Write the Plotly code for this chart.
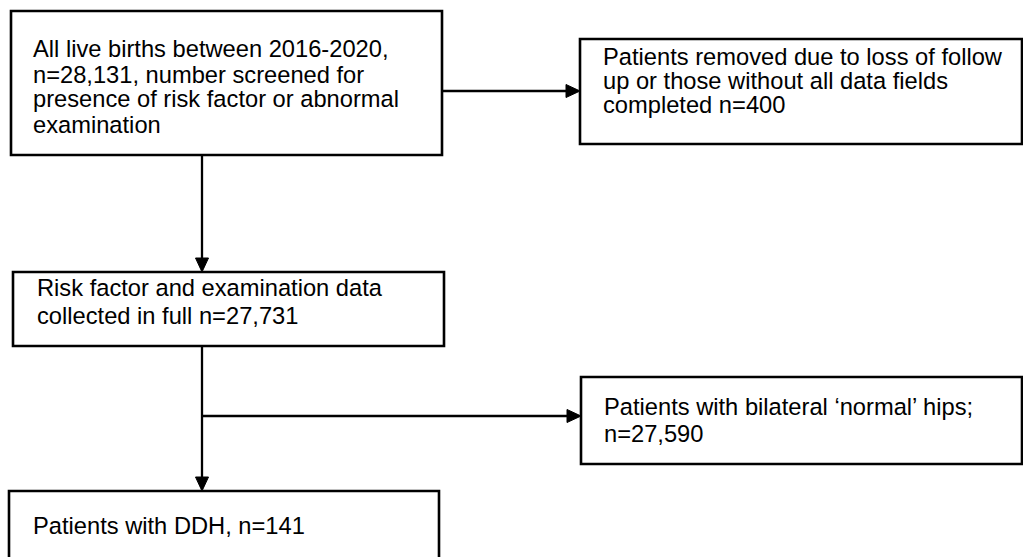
import plotly.graph_objects as go

# ---- content ----
box1_lines = ["All live births between 2016-2020,",
              "n=28,131, number screened for",
              "presence of risk factor or abnormal",
              "examination"]
box2_lines = ["Patients removed due to loss of follow",
              "up or those without all data fields",
              "completed n=400"]
box3_lines = ["Risk factor and examination data",
              "collected in full n=27,731"]
box4_lines = ["Patients with bilateral \u2018normal\u2019 hips;",
              "n=27,590"]
box5_lines = ["Patients with DDH, n=141"]

# ---- layout geometry (pixels, y downward) ----
W, H = 1023, 557
boxes = [
    dict(lines=box1_lines, x0=11, x1=442, y0=11, y1=155, tx=32, ty=[49, 74.5, 99, 124.5]),
    dict(lines=box2_lines, x0=580, x1=1022, y0=39, y1=144, tx=602, ty=[57, 81, 105]),
    dict(lines=box3_lines, x0=13, x1=444, y0=272, y1=346, tx=36, ty=[288, 316]),
    dict(lines=box4_lines, x0=581, x1=1022, y0=377, y1=464, tx=603, ty=[407, 434]),
    dict(lines=box5_lines, x0=9, x1=439, y0=491, y1=600, tx=32, ty=[526]),
]
# connectors: (x_start, y_start, x_end, y_end)
connectors = [
    (442, 91, 580, 91),
    (202, 155, 202, 272),
    (202, 346, 202, 491),
    (202, 416, 581, 416),
]

FONT = dict(family="Liberation Sans, Arial, sans-serif", size=23.7, color="black")
AL, AW = 14, 6.5  # arrowhead length, half-width

fig = go.Figure()
shapes = []
annotations = []

for b in boxes:
    shapes.append(dict(type="rect", xref="x", yref="y", x0=b["x0"], x1=b["x1"],
                       y0=b["y0"], y1=b["y1"], line=dict(color="black", width=2.6),
                       fillcolor="white", layer="below"))
    for line, y in zip(b["lines"], b["ty"]):
        annotations.append(dict(x=b["tx"], y=y, xref="x", yref="y", text=line,
                                showarrow=False, xanchor="left", yanchor="middle",
                                font=FONT, borderpad=0))

for (xs, ys, xe, ye) in connectors:
    if xs == xe:  # vertical, pointing down
        shaft_end = (xe, ye - AL)
        tri = f"M {xe} {ye} L {xe - AW} {ye - AL} L {xe + AW} {ye - AL} Z"
    else:  # horizontal, pointing right
        shaft_end = (xe - AL, ye)
        tri = f"M {xe} {ye} L {xe - AL} {ye - AW} L {xe - AL} {ye + AW} Z"
    shapes.append(dict(type="line", xref="x", yref="y", x0=xs, y0=ys,
                       x1=shaft_end[0], y1=shaft_end[1],
                       line=dict(color="black", width=2.3)))
    shapes.append(dict(type="path", xref="x", yref="y", path=tri,
                       fillcolor="black", line=dict(color="black", width=1)))

fig.update_layout(
    width=W, height=H,
    margin=dict(l=0, r=0, t=0, b=0),
    paper_bgcolor="white", plot_bgcolor="white",
    xaxis=dict(range=[0, W], visible=False, fixedrange=True),
    yaxis=dict(range=[H, 0], visible=False, fixedrange=True),
    shapes=shapes, annotations=annotations, showlegend=False,
)

fig.write_html("out.html", config=dict(displayModeBar=False),
               post_script="document.body.style.margin='0px';document.body.style.overflow='hidden';")
